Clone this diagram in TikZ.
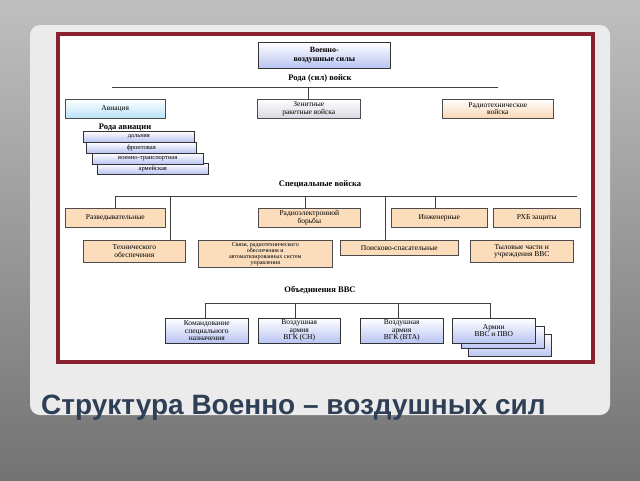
\documentclass[tikz,border=0pt]{standalone}
\usepackage{fontspec}
\setmainfont{Liberation Serif}
\newfontfamily\titlefont{Liberation Sans}
\usetikzlibrary{positioning}
\definecolor{frameRed}{HTML}{8A2130}
\definecolor{titleBlue}{HTML}{2E3F56}
\definecolor{boxBlue}{HTML}{B8C4F2}
\definecolor{boxCyan}{HTML}{B7E2F7}
\definecolor{boxGrey}{HTML}{D8D8E2}
\definecolor{boxOrange}{HTML}{FBD7B4}
\definecolor{boxTan}{HTML}{FBDDBC}
\tikzset{
  box/.style={draw=black!70, line width=0.6pt, minimum height=19pt, inner sep=1pt,
    align=center, font=\fontsize{7.5}{7.5}\selectfont, anchor=north west},
  bluebox/.style={box, top color=white, bottom color=boxBlue, draw=black!80},
  tanbox/.style={box, fill=boxTan},
  lbl/.style={font=\bfseries\fontsize{8.5}{9}\selectfont},
  link/.style={draw=black!75, line width=0.6pt}
}
\begin{document}
\begin{tikzpicture}[x=1pt,y=-1pt]
\useasboundingbox (0,0) rectangle (640,480);
% slide background
\shade[top color=black!25, bottom color=black!55] (0,0) rectangle (640,480);
\fill[black!8, rounded corners=10] (30,25) rectangle (610,415);
\fill[frameRed] (56,32) rectangle (595,364);
\fill[white] (60,36) rectangle (591,360);
\node[font=\titlefont\bfseries\fontsize{28}{30}\selectfont, text=titleBlue, anchor=west, inner sep=0pt] (title) at (41,408) {Структура Военно – воздушных сил};

% top
\node[bluebox, minimum width=132pt, minimum height=26pt, font=\bfseries\fontsize{8}{8.5}\selectfont] (vvs) at (258,42) {Военно-\\воздушные силы};
\node[lbl] (rody) at (320,78) {Рода (сил) войск};
\coordinate (b1l) at (112,87); \coordinate (b1r) at (498,87); \coordinate (b1m) at (308,87);
\draw[link] (b1l) -- (b1r);
\node[box, minimum width=100pt, top color=white, bottom color=boxCyan] (avia) at (65,99) {Авиация};
\node[box, minimum width=103pt, top color=white, bottom color=boxGrey] (zrv) at (257,99) {Зенитные\\ракетные войска};
\node[box, minimum width=111pt, top color=white, bottom color=boxOrange] (rtv) at (442,99) {Радиотехнические\\войска};
\draw[link] (b1m) -- (b1m |- zrv.north);

% rody aviacii
\node[lbl] (rodyav) at (125,127) {Рода авиации};
\node[bluebox, minimum width=111pt, minimum height=11pt, font=\fontsize{6.5}{7}\selectfont] (ar) at (97,163) {армейская};
\node[bluebox, minimum width=111pt, minimum height=11pt, font=\fontsize{6.5}{7}\selectfont] (vt) at (92,153) {военно-транспортная};
\node[bluebox, minimum width=110pt, minimum height=11pt, font=\fontsize{6.5}{7}\selectfont] (fr) at (86,142) {фронтовая};
\node[bluebox, minimum width=111pt, minimum height=11pt, font=\fontsize{6.5}{7}\selectfont] (dal) at (83,131) {дальняя};

% special troops
\node[lbl] (spec) at (320,184) {Специальные войска};
\coordinate (b2l) at (115,196); \coordinate (b2r) at (577,196);
\draw[link] (b2l) -- (b2r);
\node[tanbox, minimum width=100pt] (razv) at (65,208) {Разведывательные};
\node[tanbox, minimum width=102pt] (reb) at (258,208) {Радиоэлектронной\\борьбы};
\node[tanbox, minimum width=96pt] (inzh) at (391,208) {Инженерные};
\node[tanbox, minimum width=87pt] (rhb) at (493,208) {РХБ защиты};
\node[tanbox, minimum width=102pt, minimum height=22pt] (tech) at (83,240) {Технического\\обеспечения};
\node[tanbox, minimum width=134pt, minimum height=27pt, font=\fontsize{6}{6}\selectfont] (svyaz) at (198,240) {Связи, радиотехнического\\обеспечения и\\автоматизированных систем\\управления};
\node[tanbox, minimum width=118pt, minimum height=15pt] (poisk) at (340,240) {Поисково-спасательные};
\node[tanbox, minimum width=103pt, minimum height=22pt] (tyl) at (470,240) {Тыловые части и\\учреждения ВВС};
\draw[link] (b2l) -- (razv.north -| b2l);
\draw[link] (b2l -| tech.north east) ++(-15,0) -- ++(0,44);
\draw[link] (b2r -| reb.north) ++(-4,0) -- ++(0,12);
\draw[link] (385,196) -- (385,240);
\draw[link] (b2r -| inzh.north) ++(-4,0) -- ++(0,12);

% obedineniya
\node[lbl] (obed) at (320,290) {Объединения ВВС};
\coordinate (b3l) at (205,303); \coordinate (b3r) at (490,303);
\draw[link] (b3l) -- (b3r);
\node[bluebox, minimum width=83pt, minimum height=22pt] (ar3) at (468,334) {};
\node[bluebox, minimum width=83pt, minimum height=22pt] (ar2) at (461,326) {};
\node[bluebox, minimum width=83pt, minimum height=25pt] (ksn) at (165,318) {Командование\\специального\\назначения};
\node[bluebox, minimum width=82pt, minimum height=25pt] (vagk) at (258,318) {Воздушная\\армия\\ВГК (СН)};
\node[bluebox, minimum width=83pt, minimum height=25pt] (vta) at (360,318) {Воздушная\\армия\\ВГК (ВТА)};
\node[bluebox, minimum width=83pt, minimum height=25pt] (arm) at (452,318) {Армии\\ВВС и ПВО};
\draw[link] (b3l) -- (b3l |- ksn.north);
\draw[link] (vagk.north) ++(-4,0) -- ++(0,-15);
\draw[link] (vta.north) ++(-4,0) -- ++(0,-15);
\draw[link] (b3r) -- (b3r |- arm.north);
\end{tikzpicture}
\end{document}
